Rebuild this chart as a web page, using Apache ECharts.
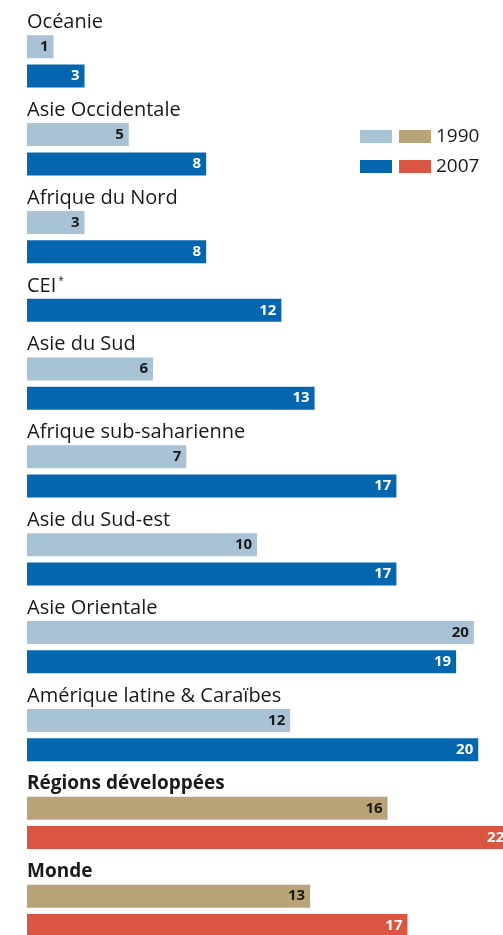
<!DOCTYPE html>
<html>
<head>
<meta charset="utf-8">
<script src="https://cdn.jsdelivr.net/npm/echarts@6/dist/echarts.min.js"></script>
<style>
    html, body { margin: 0; padding: 0; background: #fff; }
    #chart { width: 503px; height: 935px; }
</style>
</head>
<body>
<div id="chart"></div>
<script>
// regions, top to bottom
var regions = ['Océanie', 'Asie Occidentale', 'Afrique du Nord', 'CEI', 'Asie du Sud',
    'Afrique sub-saharienne', 'Asie du Sud-est', 'Asie Orientale',
    'Amérique latine & Caraïbes', 'Régions développées', 'Monde'];
// values (labels show the rounded value)
var v1990 = [1.2, 4.6, 2.6, null, 5.7, 7.2, 10.4, 20.2, 11.9, 16.3, 12.8];
var v2007 = [2.6, 8.1, 8.1, 11.5, 13.0, 16.7, 16.7, 19.4, 20.4, 21.8, 17.2];
// aggregates drawn in warm colours, bold title
var aggregates = ['Régions développées', 'Monde'];

var COOL_1990 = '#a7c3d5', COOL_2007 = '#0566b0';
var WARM_1990 = '#b9a478', WARM_2007 = '#da5642';
var TEXT = '#1a1a1a';
var FONT = '"Open Sans", sans-serif';

/*---- one row for the title, one per bar ----*/
var rows = [];
for (var i = 0; i < regions.length; i++) {
    rows.push({ key: regions[i] });
    if (v1990[i] != null) rows.push({ key: regions[i] + '|1990', region: regions[i], year: '1990', value: v1990[i] });
    rows.push({ key: regions[i] + '|2007', region: regions[i], year: '2007', value: v2007[i] });
}

function column(year, warm) {
    return rows.map(function (r) {
        if (r.year !== year) return '-';
        var isWarm = aggregates.indexOf(r.region) >= 0;
        return isWarm === warm ? r.value : '-';
    });
}

function makeSeries(name, year, warm, color, labelColor) {
    return {
        name: name,
        type: 'bar',
        data: column(year, warm),
        barWidth: 23,
        barGap: '-100%',
        clip: false,
        silent: true,
        itemStyle: { color: color },
        label: {
            show: true,
            position: 'insideRight',
            distance: 5,
            color: labelColor,
            fontFamily: FONT,
            fontWeight: 'bold',
            fontSize: 15,
            formatter: function (p) { return Math.round(p.value); }
        }
    };
}

function legendFor(year, top) {
    return {
        left: 360, top: top,
        padding: 0,
        orient: 'horizontal',
        itemWidth: 32, itemHeight: 13, itemGap: 7,
        selectedMode: false,
        icon: 'rect',
        data: [year + ' ', year],
        formatter: function (n) { return n === year ? n : ''; },
        textStyle: { color: TEXT, fontFamily: FONT, fontSize: 19 }
    };
}

var myChart = echarts.init(document.getElementById('chart'));

var option = {
    animation: false,
    grid: { left: 27, top: 2.8, width: 442.4, height: 937.3, outerBoundsMode: 'none' },
    legend: [legendFor('1990', 127), legendFor('2007', 157)],
    xAxis: {
        type: 'value', min: 0, max: 20,
        show: false
    },
    yAxis: {
        type: 'category',
        inverse: true,
        data: rows.map(function (r) { return r.key; }),
        axisLine: { show: false },
        axisTick: { show: false },
        splitLine: { show: false },
        axisLabel: {
            inside: true,
            margin: 0,
            interval: 0,
            color: TEXT,
            fontFamily: FONT,
            fontSize: 20,
            padding: [10, 0, 0, 0],
            formatter: function (k) {
                if (k.indexOf('|') >= 0) return '';
                if (aggregates.indexOf(k) >= 0) return '{b|' + k + '}';
                if (k === 'CEI') return 'CEI{sup|*}';
                return k;
            },
            rich: {
                b: { fontFamily: FONT, fontSize: 19, fontWeight: 'bold', color: TEXT },
                sup: { fontFamily: FONT, fontSize: 10, color: TEXT, padding: [0, 0, 10, 2] }
            }
        }
    },
    series: [
        makeSeries('1990 ', '1990', false, COOL_1990, TEXT),
        makeSeries('1990', '1990', true, WARM_1990, TEXT),
        makeSeries('2007 ', '2007', false, COOL_2007, '#fff'),
        makeSeries('2007', '2007', true, WARM_2007, '#fff')
    ]
};

myChart.setOption(option);
</script>
</body>
</html>
